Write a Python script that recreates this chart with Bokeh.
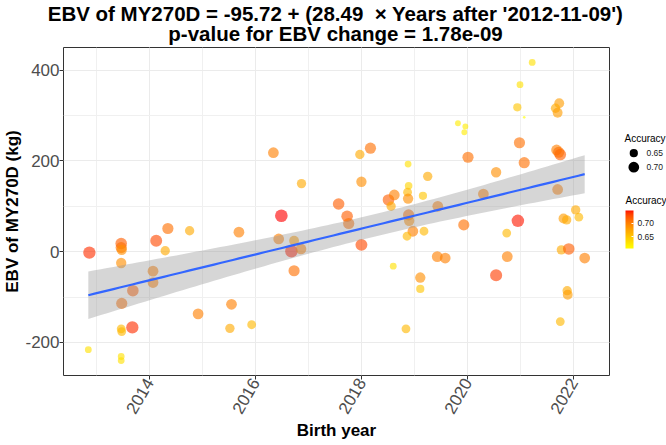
import numpy as np
from bokeh.plotting import figure
from bokeh.layouts import column, row
from bokeh.models import (Range1d, SingleIntervalTicker, ColumnDataSource, LinearColorMapper,
                          ColorBar, FixedTicker, PrintfTickFormatter, NumeralTickFormatter)
from bokeh.core.properties import value
from bokeh.embed import file_html
from bokeh.resources import INLINE

# ---- data -------------------------------------------------------------
birth_year = [2012.87, 2012.85, 2013.47, 2013.47, 2013.48, 2013.47, 2013.48, 2013.47, 2013.48, 2013.68,
              2013.69, 2013.47, 2013.47, 2014.07, 2014.07, 2014.13, 2014.35, 2014.30, 2014.76, 2014.92,
              2015.69, 2015.55, 2015.52, 2015.93, 2016.49, 2016.44, 2016.73, 2016.73, 2016.68, 2016.86,
              2016.34, 2016.87, 2017.57, 2017.73, 2017.76, 2018.00, 2017.97, 2018.17, 2018.00, 2018.51,
              2018.62, 2018.56, 2018.88, 2018.89, 2018.87, 2018.88, 2019.25, 2019.16, 2019.44, 2018.89,
              2018.90, 2018.97, 2018.86, 2019.18, 2019.82, 2019.96, 2019.94, 2020.01, 2020.30, 2020.54,
              2019.93, 2020.74, 2020.95, 2021.22, 2020.99, 2020.94, 2020.98, 2021.07, 2018.60, 2019.11,
              2019.11, 2018.84, 2019.43, 2019.58, 2020.54, 2020.75, 2021.73, 2021.66, 2021.70, 2021.68,
              2021.75, 2021.72, 2021.70, 2022.04, 2022.10, 2021.81, 2021.87, 2021.77, 2021.91, 2022.21,
              2021.88, 2021.89, 2021.75, 2021.07]

ebv = [-2, -216, 18, 9, 4, -25, -114, -170, -176, -167,
       -86, -231, -240, -43, -68, 24, 51, 2, 46, -137,
       43, -116, -169, -161, 79, 28, -42, 24, 1, 6,
       218, 150, 105, 78, 62, 15, 214, 228, 154, 114,
       125, 100, 193, 145, 131, 117, 166, 123, 100, 81,
       68, 45, 34, 45, 283, 276, 263, 208, 127, 175,
       59, 41, 68, 417, 368, 318, 240, 196, -32, -57,
       -82, -170, -11, -14, -52, -11, 327, 316, 306, 224,
       214, 219, 137, 92, 76, 73, 70, 4, 6, -14,
       -86, -95, -154, 296]

accuracy = [0.74, 0.63, 0.72, 0.71, 0.69, 0.69, 0.71, 0.66, 0.66, 0.74,
            0.72, 0.63, 0.63, 0.70, 0.70, 0.73, 0.71, 0.67, 0.67, 0.70,
            0.70, 0.70, 0.67, 0.66, 0.748, 0.70, 0.71, 0.68, 0.745, 0.70,
            0.70, 0.67, 0.72, 0.72, 0.71, 0.73, 0.67, 0.71, 0.69, 0.72,
            0.70, 0.67, 0.63, 0.64, 0.66, 0.69, 0.67, 0.65, 0.70, 0.71,
            0.69, 0.70, 0.66, 0.66, 0.62, 0.62, 0.62, 0.71, 0.70, 0.69,
            0.71, 0.66, 0.745, 0.63, 0.63, 0.65, 0.71, 0.71, 0.63, 0.69,
            0.65, 0.66, 0.70, 0.70, 0.735, 0.70, 0.68, 0.67, 0.68, 0.70,
            0.72, 0.71, 0.70, 0.67, 0.66, 0.68, 0.67, 0.67, 0.72, 0.70,
            0.67, 0.68, 0.66, 0.605]

# fitted trend stated in the title
intercept = -95.72
slope = 28.49
origin_date = "2012-11-09"
origin_year = 2012.857      # the same date as a decimal year
p_value = "1.78e-09"

size_breaks = [0.65, 0.70]
colour_breaks = [0.65, 0.70]

FONT = "Liberation Sans"
W, H = 666, 445
TITLE_H = 46                      # height of the title strip
PANEL_L, PANEL_R = 62, 608        # panel edges on the page
PANEL_T, PANEL_B = 47, 375
LEG_W = W - PANEL_R - 1           # width of the legend column

x = np.array(birth_year, dtype=float)
y = np.array(ebv, dtype=float)
acc = np.array(accuracy, dtype=float)
a_min, a_max = acc.min(), acc.max()


# ---- colour scale: yellow -> red interpolated in CIELAB ---------------
def hex_to_lab(h):
    rgb = np.array([int(h[i:i + 2], 16) / 255 for i in (1, 3, 5)])
    lin = np.where(rgb <= 0.04045, rgb / 12.92, ((rgb + 0.055) / 1.055) ** 2.4)
    m = np.array([[0.4124, 0.3576, 0.1805], [0.2126, 0.7152, 0.0722], [0.0193, 0.1192, 0.9505]])
    xyz = m @ lin / np.array([0.95047, 1.0, 1.08883])
    f = np.where(xyz > 0.008856, np.cbrt(xyz), 7.787 * xyz + 16 / 116)
    return np.array([116 * f[1] - 16, 500 * (f[0] - f[1]), 200 * (f[1] - f[2])])


def lab_to_hex(lab):
    L, a, b = lab
    fy = (L + 16) / 116
    f = np.array([fy + a / 500, fy, fy - b / 200])
    xyz = np.where(f ** 3 > 0.008856, f ** 3, (f - 16 / 116) / 7.787) * np.array([0.95047, 1.0, 1.08883])
    m = np.array([[3.2406, -1.5372, -0.4986], [-0.9689, 1.8758, 0.0415], [0.0557, -0.2040, 1.0570]])
    lin = np.clip(m @ xyz, 0, 1)
    rgb = np.where(lin <= 0.0031308, 12.92 * lin, 1.055 * lin ** (1 / 2.4) - 0.055)
    rgb = np.clip(np.round(rgb * 255), 0, 255).astype(int)
    return "#%02x%02x%02x" % tuple(rgb)


lab_lo, lab_hi = hex_to_lab("#FFFF00"), hex_to_lab("#FF0000")
palette = [lab_to_hex(lab_lo + (lab_hi - lab_lo) * t) for t in np.linspace(0, 1, 256)]
mapper = LinearColorMapper(palette=palette, low=a_min, high=a_max)


# ---- size scale (area proportional, range 1..6) ------------------------
def point_diameter(a):
    t = np.clip((np.asarray(a, dtype=float) - a_min) / (a_max - a_min), 0, 1)
    size = 1 + 5 * np.sqrt(t)
    return 0.70 * (2.845 * size + 0.945)


src = ColumnDataSource(dict(x=x, y=y, acc=acc, size=point_diameter(acc)))

# ---- linear trend and 95% confidence band -----------------------------
n = len(x)
resid = y - (intercept + slope * (x - origin_year))
s = np.sqrt(np.sum(resid ** 2) / (n - 2))
xbar = x.mean()
sxx = np.sum((x - xbar) ** 2)
t_crit = 1.986  # 95% t quantile, df = n - 2
xs = np.linspace(x.min(), x.max(), 80)
fit = intercept + slope * (xs - origin_year)
half = t_crit * s * np.sqrt(1 / n + (xs - xbar) ** 2 / sxx)

# ---- ranges with 5% padding ------------------------------------------
xpad = 0.05 * (x.max() - x.min())
ypad = 0.05 * (y.max() - y.min())

# ================= title strip =========================================
tfig = figure(width=W, height=TITLE_H, output_backend="svg", toolbar_location=None,
              x_range=Range1d(0, W), y_range=Range1d(TITLE_H, 0),
              x_axis_location=None, y_axis_location=None, min_border=0,
              outline_line_color=None, border_fill_color="white", background_fill_color="white")
tfig.grid.visible = False
title_lines = [f"EBV of MY270D = {intercept} + ({slope}\u00a0 \u00d7 Years after '{origin_date}')",
               f"p-value for EBV change = {p_value}"]
tfig.text(x=[(PANEL_L + PANEL_R) / 2] * 2, y=[12.5, 32.5], text=title_lines, text_font=value(FONT),
          text_font_size="20.5px", text_font_style="bold", text_color="black",
          text_align="center", text_baseline="middle")

# ================= main panel ==========================================
p = figure(frame_width=PANEL_R - PANEL_L, frame_height=PANEL_B - PANEL_T,
           output_backend="svg", toolbar_location=None,
           x_range=Range1d(x.min() - xpad, x.max() + xpad),
           y_range=Range1d(y.min() - ypad, y.max() + ypad),
           min_border_left=PANEL_L, min_border_right=1, min_border_top=PANEL_T - TITLE_H,
           min_border_bottom=H - PANEL_B,
           background_fill_color="white", border_fill_color="white")

p.outline_line_color = "#333333"
p.outline_line_width = 1

p.xaxis.ticker = SingleIntervalTicker(interval=2, num_minor_ticks=2)
p.yaxis.ticker = SingleIntervalTicker(interval=200, num_minor_ticks=2)
p.yaxis.formatter = NumeralTickFormatter(format="0")
p.xaxis.formatter = NumeralTickFormatter(format="0")
p.xaxis.major_label_orientation = np.pi / 3
p.xaxis.axis_label = "Birth year"
p.yaxis.axis_label = "EBV of MY270D (kg)"
for ax in (p.xaxis, p.yaxis):
    ax.axis_line_color = None
    ax.major_tick_line_color = "#333333"
    ax.major_tick_out = 4
    ax.major_tick_in = 0
    ax.minor_tick_line_color = None
    ax.major_label_text_font = FONT
    ax.major_label_text_font_size = "17px"
    ax.major_label_text_color = "#4d4d4d"
    ax.major_label_standoff = 0
    ax.axis_label_text_font = FONT
    ax.axis_label_text_font_size = "17px"
    ax.axis_label_text_font_style = "bold"
    ax.axis_label_text_color = "black"
    ax.axis_label_standoff = 0

for g in (p.xgrid, p.ygrid):
    g.grid_line_color = "#ebebeb"
    g.grid_line_width = 1
    g.minor_grid_line_color = "#f0f0f0"
    g.minor_grid_line_width = 1

# points, then the band and the trend line on top
p.scatter("x", "y", source=src, size="size",
          fill_color={"field": "acc", "transform": mapper}, line_color=None, fill_alpha=0.62)
p.varea(x=xs, y1=fit - half, y2=fit + half, fill_color="#999999", fill_alpha=0.4)
p.line(xs, fit, line_color="#3366FF", line_width=2.2)

# ================= legend column =======================================
# this column's frame lines up with the panel, so its y range spans the
# panel's page rows; coordinates here are page pixels (y downwards)
x0 = W - LEG_W
lfig = figure(width=LEG_W, height=H - TITLE_H, output_backend="svg", toolbar_location=None,
              x_range=Range1d(x0, W), y_range=Range1d(PANEL_B, PANEL_T),
              x_axis_location=None, y_axis_location=None, min_border=0,
              outline_line_color=None, border_fill_color="white", background_fill_color="white")
lfig.grid.visible = False

# size legend
size_title_y = 138
key_x, key_y0, key_step = 632.3, 152.7, 14.0
key_ys = [key_y0 + i * key_step for i in range(len(size_breaks))]
lfig.text(x=[623], y=[size_title_y], text=["Accuracy"], text_font=value(FONT),
          text_font_size="10px", text_color="black", text_baseline="middle")
lfig.scatter(x=[key_x] * len(size_breaks), y=key_ys, size=point_diameter(size_breaks),
             fill_color="black", line_color=None)
lfig.text(x=[645] * len(size_breaks), y=key_ys, text=[f"{b:.2f}" for b in size_breaks],
          text_font=value(FONT), text_font_size="8.5px", text_color="#1a1a1a",
          text_baseline="middle")

# colour legend
bar_left, bar_top, bar_bottom = 624, 210, 248
lfig.text(x=[bar_left], y=[200], text=["Accuracy"], text_font=value(FONT),
          text_font_size="10px", text_color="black", text_baseline="middle")
cb = ColorBar(color_mapper=mapper, orientation="vertical", width=8, height=bar_bottom - bar_top,
              location=(bar_left - x0, PANEL_B - bar_bottom),
              ticker=FixedTicker(ticks=colour_breaks), formatter=PrintfTickFormatter(format="%.2f"),
              major_label_text_font=FONT, major_label_text_font_size="8.5px",
              major_label_text_color="#1a1a1a", label_standoff=4,
              major_tick_line_color="white", major_tick_in=2, major_tick_out=0,
              minor_tick_line_color=None, bar_line_color=None,
              padding=0, margin=0, border_line_color=None, background_fill_alpha=0)
lfig.add_layout(cb)

layout = column(tfig, row(p, lfig, spacing=0), spacing=0)
open("out.html", "w").write(file_html(layout, INLINE))
